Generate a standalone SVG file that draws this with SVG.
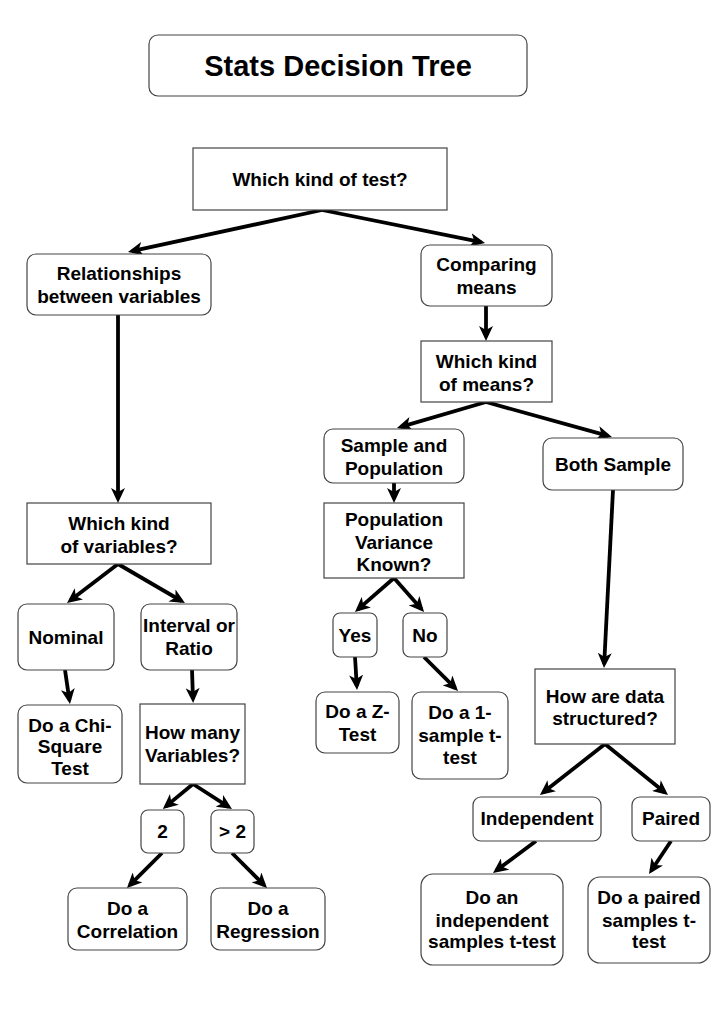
<svg xmlns="http://www.w3.org/2000/svg" width="725" height="1024" viewBox="0 0 725 1024">
<style>
.n rect{fill:#fff;stroke:#444;stroke-width:1.2}
.n text{font-family:"Liberation Sans",Arial,sans-serif;font-weight:bold;font-size:19px;text-anchor:middle;fill:#000}
.t text{font-size:29px}
.e line{stroke:#000;stroke-width:3.8;fill:none;marker-end:url(#ah)}
</style>
<defs>
<marker id="ah" markerUnits="userSpaceOnUse" markerWidth="15" markerHeight="14" viewBox="0 0 15 14" refX="11" refY="7" orient="auto"><path d="M0,0 L15,7 L0,14 L4,7 Z" fill="#000"/></marker>
</defs>
<rect width="725" height="1024" fill="#fff"/>
<g id="title" class="n t"><rect x="149" y="35" width="378" height="61" rx="9"/><text x="338" y="76">Stats Decision Tree</text></g>
<g class="e" id="edges">
<line x1="322" y1="210" x2="131.9" y2="251.1"/>
<line x1="322" y1="210" x2="481.1" y2="242.2"/>
<line x1="486" y1="306" x2="486" y2="337"/>
<line x1="486" y1="402" x2="400.8" y2="426.9"/>
<line x1="486" y1="402" x2="608.1" y2="435.9"/>
<line x1="394" y1="483" x2="394" y2="499"/>
<line x1="394" y1="578" x2="358" y2="609.4"/>
<line x1="394" y1="578" x2="421.4" y2="609"/>
<line x1="355" y1="657" x2="356.8" y2="686"/>
<line x1="424" y1="657" x2="455.2" y2="688.2"/>
<line x1="613" y1="490" x2="604.2" y2="664"/>
<line x1="605" y1="744" x2="543.1" y2="792.5"/>
<line x1="605" y1="744" x2="664.9" y2="792.5"/>
<line x1="536" y1="841" x2="496.2" y2="870.6"/>
<line x1="671" y1="841" x2="651.2" y2="870.7"/>
<line x1="118" y1="315" x2="118" y2="499"/>
<line x1="118" y1="564" x2="70.2" y2="600.6"/>
<line x1="118" y1="564" x2="181.5" y2="601"/>
<line x1="65" y1="670" x2="69.4" y2="700"/>
<line x1="192" y1="670" x2="193" y2="699"/>
<line x1="193" y1="784" x2="165.9" y2="806.4"/>
<line x1="193" y1="784" x2="228.6" y2="806.8"/>
<line x1="162" y1="853" x2="129.8" y2="885.2"/>
<line x1="232" y1="853" x2="264.2" y2="885.2"/>
</g>
<g id="root" class="n"><rect x="193" y="148" width="254" height="62"/><text x="320" y="186">Which kind of test?</text></g>
<g id="relationships" class="n"><rect x="27" y="254" width="184" height="61" rx="9"/><text x="119" y="280">Relationships</text><text x="119" y="303">between variables</text></g>
<g id="comparing" class="n"><rect x="421" y="245" width="131" height="61" rx="9"/><text x="486.5" y="271">Comparing</text><text x="486.5" y="294">means</text></g>
<g id="kindmeans" class="n"><rect x="421" y="341" width="131" height="61"/><text x="486.5" y="368">Which kind</text><text x="486.5" y="391">of means?</text></g>
<g id="samplepop" class="n"><rect x="324" y="429" width="140" height="54" rx="9"/><text x="394" y="452">Sample and</text><text x="394" y="475">Population</text></g>
<g id="bothsample" class="n"><rect x="543" y="438" width="140" height="52" rx="9"/><text x="613" y="471">Both Sample</text></g>
<g id="popvar" class="n"><rect x="324" y="503" width="140" height="75"/><text x="394" y="526">Population</text><text x="394" y="549">Variance</text><text x="394" y="571">Known?</text></g>
<g id="yes" class="n"><rect x="333" y="613" width="44" height="44" rx="7"/><text x="355" y="642">Yes</text></g>
<g id="no" class="n"><rect x="403" y="613" width="44" height="44" rx="7"/><text x="425" y="642">No</text></g>
<g id="ztest" class="n"><rect x="316" y="692" width="83" height="61" rx="9"/><text x="357.5" y="718">Do a Z-</text><text x="357.5" y="741">Test</text></g>
<g id="onesample" class="n"><rect x="412" y="692" width="96" height="87" rx="9"/><text x="460" y="719">Do a 1-</text><text x="460" y="742">sample t-</text><text x="460" y="764">test</text></g>
<g id="structured" class="n"><rect x="535" y="669" width="140" height="75"/><text x="605" y="703">How are data</text><text x="605" y="725">structured?</text></g>
<g id="independent" class="n"><rect x="473" y="797" width="128" height="44" rx="8"/><text x="537" y="825">Independent</text></g>
<g id="paired" class="n"><rect x="632" y="797" width="78" height="44" rx="8"/><text x="671" y="825">Paired</text></g>
<g id="indttest" class="n"><rect x="421" y="874" width="142" height="91" rx="12"/><text x="492" y="904">Do an</text><text x="492" y="927">independent</text><text x="492" y="948">samples t-test</text></g>
<g id="pairedttest" class="n"><rect x="588" y="877" width="122" height="86" rx="12"/><text x="649" y="904">Do a paired</text><text x="649" y="927">samples t-</text><text x="649" y="948">test</text></g>
<g id="kindvars" class="n"><rect x="27" y="503" width="184" height="61"/><text x="119" y="530">Which kind</text><text x="119" y="553">of variables?</text></g>
<g id="nominal" class="n"><rect x="18" y="604" width="96" height="66" rx="9"/><text x="66" y="644">Nominal</text></g>
<g id="interval" class="n"><rect x="141" y="604" width="96" height="66" rx="9"/><text x="189" y="632">Interval or</text><text x="189" y="655">Ratio</text></g>
<g id="chisquare" class="n"><rect x="18" y="705" width="104" height="78" rx="9"/><text x="70" y="732">Do a Chi-</text><text x="70" y="753">Square</text><text x="70" y="775">Test</text></g>
<g id="howmany" class="n"><rect x="140" y="704" width="105" height="80"/><text x="192.5" y="739">How many</text><text x="192.5" y="762">Variables?</text></g>
<g id="two" class="n"><rect x="141" y="810" width="43" height="43" rx="7"/><text x="162.5" y="838">2</text></g>
<g id="gttwo" class="n"><rect x="211" y="810" width="43" height="43" rx="7"/><text x="232.5" y="838">&gt; 2</text></g>
<g id="correlation" class="n"><rect x="68" y="888" width="119" height="62" rx="9"/><text x="127.5" y="915">Do a</text><text x="127.5" y="938">Correlation</text></g>
<g id="regression" class="n"><rect x="211" y="888" width="114" height="62" rx="9"/><text x="268" y="915">Do a</text><text x="268" y="938">Regression</text></g>
</svg>
